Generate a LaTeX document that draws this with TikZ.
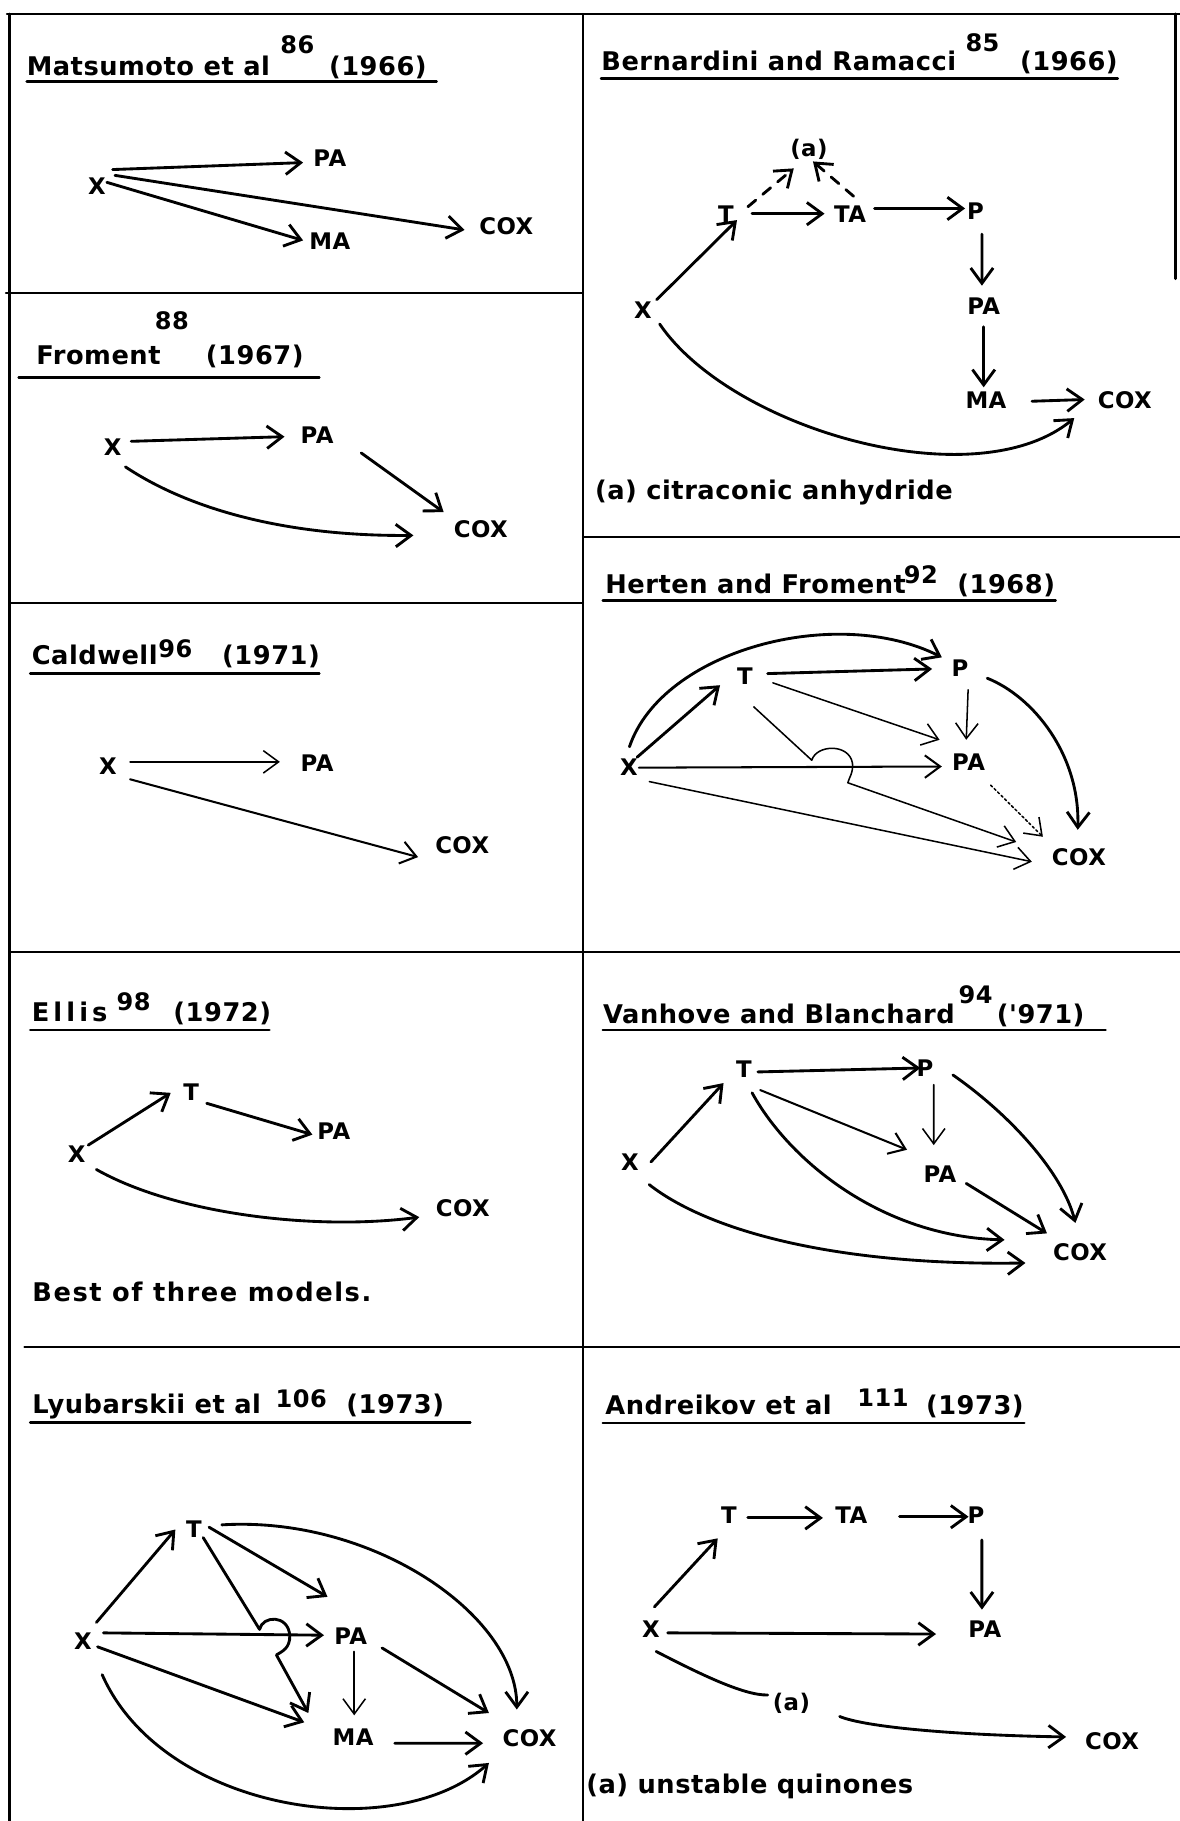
\documentclass[tikz,border=0pt]{standalone}
\usepackage{fontspec}
\usetikzlibrary{arrows.meta,calc}
\newfontfamily\ttlfam{DejaVu Sans Bold}[LetterSpace=2]
\newfontfamily\labfam{DejaVu Sans Bold}[LetterSpace=2]
\begin{document}
\begin{tikzpicture}[x=0.02cm,y=-0.02cm,
  lab/.style={font=\labfam\fontsize{11.2}{13}\selectfont, inner sep=0pt},
  ttl/.style={font=\ttlfam\fontsize{12.6}{15}\selectfont, inner sep=0pt, anchor=base west},
  sup/.style={font=\ttlfam\fontsize{11.8}{14}\selectfont, inner sep=0pt, anchor=base west},
  divline/.style={line width=1pt},
  uline/.style={line width=1.2pt},
  arw/.style={-{Straight Barb[length=7.5pt,width=11pt]}},
  thk/.style={line width=1.4pt},
  mid/.style={line width=1pt},
  thn/.style={line width=0.75pt},
  dsh/.style={dash pattern=on 5pt off 4.5pt},
  dtt/.style={dash pattern=on 1.2pt off 1.2pt},
  line cap=round, line join=round]
\useasboundingbox (0,0) rectangle (1016,1568);
\fill[white] (0,0) rectangle (1016,1568);
% frame
\draw[divline] (6,12) -- (1016,12);
\draw[line width=1.3pt] (8,12) -- (8,1568);
\draw[line width=1.1pt] (502,12) -- (502,1568);
\draw[line width=1.4pt] (1012,12) -- (1012,240);
\draw[divline] (5,252.6) -- (502,252.6);
\draw[divline] (8,519) -- (502,519);
\draw[divline] (8,820) -- (1016,820);
\draw[divline] (21,1160) -- (1016,1160);
\draw[divline] (502,462.6) -- (1016,462.6);

% ---------- Matsumoto
\node[ttl] (a1) at (22.7,64.6) {Matsumoto et al};
\node[sup] (a1s) at (241,46) {86};
\node[ttl] (a1y) at (283,64.6) {(1966)};
\draw[uline] (23,70.3) -- (376,70.3);
\node[lab] (a1X) at (83.5,160) {X};
\node[lab] (a1PA) at (284,136) {PA};
\node[lab] (a1MA) at (284,208) {MA};
\node[lab] (a1COX) at (436,194.5) {COX};
\draw[thk,arw] ($(a1X)+(13.5,-14)$) -- ($(a1PA)+(-23,4)$);
\draw[thk,arw] ($(a1X)+(15.5,-9)$) -- ($(a1COX)+(-36,3.5)$);
\draw[thk,arw] ($(a1X)+(8.5,-3)$) -- ($(a1MA)+(-23,-1)$);

% ---------- Froment
\node[ttl] (b1) at (31,314) {Froment};
\node[sup] (b1s) at (133,284) {88};
\node[ttl] (b1y) at (177,314) {(1967)};
\draw[uline] (16,325) -- (275,325);
\node[lab] (b1X) at (97,385) {X};
\node[lab] (b1PA) at (273,375) {PA};
\node[lab] (b1COX) at (414,456) {COX};
\draw[thk,arw] ($(b1X)+(16,-5)$) -- ($(b1PA)+(-28,1)$);
\draw[thk,arw] ($(b1PA)+(38,15)$) -- ($(b1COX)+(-32,-15)$);
\draw[thk,arw] ($(b1X)+(11,17)$) .. controls (165,440) and (250,462) .. ($(b1COX)+(-58,5)$);

% ---------- Caldwell
\node[ttl] (c1) at (27,572.6) {Caldwell};
\node[sup] (c1s) at (136,566) {96};
\node[ttl] (c1y) at (191,572.6) {(1971)};
\draw[uline] (26,580) -- (275,580);
\node[lab] (c1X) at (93,659.5) {X};
\node[lab] (c1PA) at (273,657) {PA};
\node[lab] (c1COX) at (398,727.5) {COX};
\draw[thn,arw] ($(c1X)+(19,-3.5)$) -- ($(c1PA)+(-32,-1)$);
\draw[mid,arw] ($(c1X)+(19,11.5)$) -- ($(c1COX)+(-38,10.5)$);

% ---------- Ellis
\node[ttl] (d1) at (27,879.7) {\addfontfeature{LetterSpace=16}Ellis};
\node[sup] (d1s) at (100,870) {98};
\node[ttl] (d1y) at (149,879.7) {(1972)};
\draw[uline] (26,887) -- (232,887);
\node[lab] (d1T) at (164.5,940) {T};
\node[lab] (d1PA) at (287.5,974) {PA};
\node[lab] (d1X) at (66,994) {X};
\node[lab] (d1COX) at (398.5,1040) {COX};
\draw[thk,arw] ($(d1X)+(10,-8)$) -- ($(d1T)+(-17.5,1)$);
\draw[thk,arw] ($(d1T)+(13.5,10)$) -- ($(d1PA)+(-18.5,3)$);
\draw[thk,arw] ($(d1X)+(17,13)$) .. controls (150,1045) and (270,1060) .. ($(d1COX)+(-37.5,8)$);
\node[ttl] (d1n) at (27.6,1121) {\addfontfeature{LetterSpace=6}Best of three models.};

% ---------- Lyubarskii
\node[ttl] (e1) at (27.5,1217) {Lyubarskii et al};
\node[sup] (e1s) at (237,1212) {106};
\node[ttl] (e1y) at (298,1217) {(1973)};
\draw[uline] (26,1225) -- (405,1225);
\node[lab] (e1T) at (167,1316.5) {T};
\node[lab] (e1X) at (71.5,1413) {X};
\node[lab] (e1PA) at (302,1408.5) {PA};
\node[lab] (e1MA) at (304,1496) {MA};
\node[lab] (e1COX) at (456,1496.5) {COX};
\draw[thk,arw] ($(e1X)+(11.5,-16)$) -- ($(e1T)+(-16,0.5)$);
\draw[thk,arw] ($(e1T)+(13,-1.5)$) -- ($(e1PA)+(-20,-33.5)$);
\draw[thk,arw] ($(e1T)+(8,7.5)$) -- (223.5,1403) .. controls (226,1391) and (248,1390) .. (249.5,1408) .. controls (250,1419) and (243,1422) .. (238,1425) -- ($(e1MA)+(-38.5,-21)$);
\draw[thk,arw] ($(e1X)+(17.5,-7)$) -- ($(e1PA)+(-23,-0.5)$);
\draw[thk,arw] ($(e1X)+(12.5,5)$) -- ($(e1MA)+(-42,-13)$);
\draw[thn,arw] ($(e1PA)+(3,13.5)$) -- ($(e1MA)+(1,-19)$);
\draw[thk,arw] ($(e1PA)+(27,10.5)$) -- ($(e1COX)+(-35,-21.5)$);
\draw[thk,arw] ($(e1MA)+(36,5)$) -- ($(e1COX)+(-40,4.5)$);
\draw[thk,arw] ($(e1T)+(24,-3.5)$) .. controls (320,1305) and (445,1390) .. ($(e1COX)+(-11,-24.5)$);
\draw[thk,arw] ($(e1X)+(16.5,29)$) .. controls (140,1560) and (340,1590) .. ($(e1COX)+(-35,21.5)$);

% ---------- Bernardini
\node[ttl] (f1) at (517.5,60.8) {Bernardini and Ramacci};
\node[sup] (f1s) at (831,44.5) {85};
\node[ttl] (f1y) at (878,60.8) {(1966)};
\draw[uline] (517.5,67.6) -- (962.5,67.6);
\node[lab] (f1a) at (696.5,129) {(a)};
\node[lab] (f1T) at (625,184) {T};
\node[lab] (f1TA) at (732,184) {TA};
\node[lab] (f1P) at (840,182) {P};
\node[lab] (f1PA) at (847,263.5) {PA};
\node[lab] (f1MA) at (849,344.5) {MA};
\node[lab] (f1COX) at (968.5,344.5) {COX};
\node[lab] (f1X) at (553.5,267) {X};
\draw[thk,arw] ($(f1T)+(22.5,0)$) -- ($(f1TA)+(-22,0)$);
\draw[thk,arw] ($(f1TA)+(21,-4.5)$) -- ($(f1P)+(-9,-2.5)$);
\draw[thk,arw] ($(f1P)+(5.5,19.6)$) -- ($(f1PA)+(-1.5,-17.5)$);
\draw[thk,arw] ($(f1PA)+(0,18)$) -- ($(f1MA)+(-2,-11)$);
\draw[thk,arw] ($(f1MA)+(39.6,1)$) -- ($(f1COX)+(-34.5,-0.5)$);
\draw[thk,arw] ($(f1X)+(12,-9)$) -- ($(f1T)+(9.6,5.5)$);
\draw[thk,arw] ($(f1X)+(14.5,12)$) .. controls (630,370) and (840,430) .. ($(f1COX)+(-43.5,15.5)$);
\draw[thk,dsh,arw] ($(f1T)+(19,-6)$) -- ($(f1a)+(-13,16)$);
\draw[thk,dsh,arw] ($(f1TA)+(3,-15)$) -- ($(f1a)+(3.5,10)$);
\node[ttl] (f1n) at (512,430) {(a) citraconic anhydride};

% ---------- Herten
\node[ttl] (g1) at (521,510.8) {Herten and Froment};
\node[sup] (g1s) at (778,502) {92};
\node[ttl] (g1y) at (824,510.8) {(1968)};
\draw[uline] (519,517) -- (909,517);
\node[lab] (g1T) at (641.5,582) {T};
\node[lab] (g1P) at (826.6,575) {P};
\node[lab] (g1PA) at (834,656) {PA};
\node[lab] (g1X) at (541.6,661) {X};
\node[lab] (g1COX) at (929,738) {COX};
\draw[thk,arw] ($(g1X)+(0.4,-18)$) .. controls (570,560) and (720,520) .. ($(g1P)+(-15.6,-9)$);
\draw[thk,arw] ($(g1X)+(7,-9)$) -- ($(g1T)+(-21.5,8)$);
\draw[thk,arw] ($(g1T)+(19.5,-2)$) -- ($(g1P)+(-24,1)$);
\draw[thn,arw] ($(g1T)+(24,6)$) -- ($(g1PA)+(-25,-19)$);
\draw[thn,arw] ($(g1T)+(7.5,26.6)$) -- (699,654.6) .. controls (703,641) and (731,640) .. (734,657) .. controls (735,665) and (731,670) .. (730,674) -- ($(g1COX)+(-54,-13)$);
\draw[mid,arw] ($(g1X)+(8.5,0)$) -- ($(g1PA)+(-23,4)$);
\draw[thn,arw] ($(g1X)+(17.5,12)$) -- ($(g1COX)+(-40.5,4)$);
\draw[thn,arw] ($(g1P)+(7,19)$) -- ($(g1PA)+(-2,-19)$);
\draw[thn,dtt,arw] ($(g1PA)+(19,20)$) -- ($(g1COX)+(-31,-17.5)$);
\draw[thk,arw] ($(g1P)+(23.5,9)$) .. controls (890,600) and (930,650) .. ($(g1COX)+(-1,-23.5)$);

% ---------- Vanhove
\node[ttl] (h1) at (519,881) {Vanhove and Blanchard};
\node[sup] (h1s) at (825,864) {94};
\node[ttl] (h1y) at (858,881) {('971)};
\draw[uline] (519,887) -- (952,887);
\node[lab] (h1T) at (640.6,921) {T};
\node[lab] (h1P) at (796.5,919.6) {P};
\node[lab] (h1X) at (542.5,1000.5) {X};
\node[lab] (h1PA) at (809.4,1011) {PA};
\node[lab] (h1COX) at (930,1078) {COX};
\draw[thk,arw] ($(h1T)+(12,2)$) -- ($(h1P)+(-4,0)$);
\draw[thk,arw] ($(h1X)+(18,0)$) -- ($(h1T)+(-17.6,11.6)$);
\draw[mid,arw] ($(h1T)+(14,17.6)$) -- ($(h1PA)+(-28.4,-21)$);
\draw[thn,arw] ($(h1P)+(7.5,14.4)$) -- ($(h1PA)+(-5.4,-25)$);
\draw[thk,arw] ($(h1T)+(7,20)$) .. controls (680,1000) and (760,1065) .. ($(h1COX)+(-65,-10.4)$);
\draw[thk,arw] ($(h1X)+(16.5,19.5)$) .. controls (610,1060) and (720,1090) .. ($(h1COX)+(-47,9.5)$);
\draw[thk,arw] ($(h1P)+(24,6)$) .. controls (870,960) and (915,1010) .. ($(h1COX)+(-4,-25)$);
\draw[thk,arw] ($(h1PA)+(22.6,8)$) -- ($(h1COX)+(-28.5,-16)$);

% ---------- Andreikov
\node[ttl] (k1) at (521,1218) {Andreikov et al};
\node[sup] (k1s) at (738,1211) {111};
\node[ttl] (k1y) at (797,1218) {(1973)};
\draw[uline] (519,1225.5) -- (882,1225.5);
\node[lab] (k1T) at (627.7,1304.6) {T};
\node[lab] (k1TA) at (733,1304.6) {TA};
\node[lab] (k1P) at (840.4,1304.6) {P};
\node[lab] (k1X) at (560.5,1402.6) {X};
\node[lab] (k1PA) at (848,1402.6) {PA};
\node[lab] (k1a) at (681.5,1466.5) {(a)};
\node[lab] (k1COX) at (957.5,1499) {COX};
\draw[thk,arw] ($(k1T)+(16.3,2.4)$) -- ($(k1TA)+(-24.4,2.4)$);
\draw[thk,arw] ($(k1TA)+(41.6,1.4)$) -- ($(k1P)+(-6.4,1.4)$);
\draw[thk,arw] ($(k1P)+(5,21.4)$) -- ($(k1PA)+(-2.5,-16.6)$);
\draw[thk,arw] ($(k1X)+(3,-19)$) -- ($(k1T)+(-9.7,20)$);
\draw[thk,arw] ($(k1X)+(14.5,3.4)$) -- ($(k1PA)+(-42,4.4)$);
\draw[thk] ($(k1X)+(4.5,19.4)$) .. controls (600,1440) and (640,1460) .. ($(k1a)+(-20.5,-7)$);
\draw[thk,arw] ($(k1a)+(41.5,11.5)$) .. controls (745,1487) and (820,1494) .. ($(k1COX)+(-39.5,-3.4)$);
\node[ttl] (k1n) at (504.5,1544) {(a) unstable quinones};
\end{tikzpicture}
\end{document}
